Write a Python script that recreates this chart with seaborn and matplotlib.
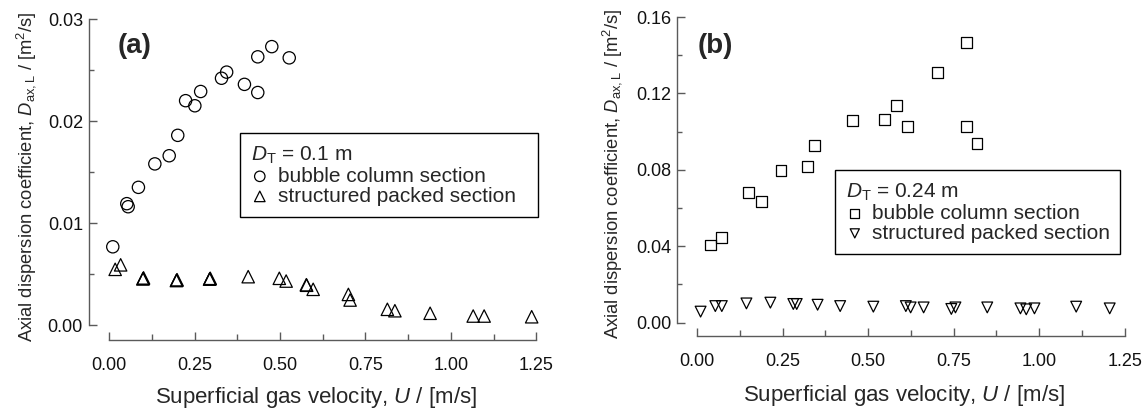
import matplotlib
matplotlib.use("Agg")
import matplotlib.pyplot as plt
import seaborn as sns
from matplotlib.ticker import MultipleLocator, FormatStrFormatter

# ---------------- data ----------------
# (a) D_T = 0.1 m
bc_a_u = [0.011, 0.052, 0.056, 0.086, 0.134, 0.176, 0.201, 0.224, 0.251, 0.268,
          0.329, 0.344, 0.396, 0.435, 0.435, 0.476, 0.527]
bc_a_d = [0.00767, 0.0119, 0.0116, 0.0135, 0.0158, 0.0166, 0.0186, 0.0220, 0.0215, 0.0229,
          0.0242, 0.0248, 0.0236, 0.0228, 0.0263, 0.0273, 0.0262]
sp_a_u = [0.018, 0.034, 0.099, 0.100, 0.101, 0.197, 0.198, 0.199, 0.294, 0.295, 0.296,
          0.407, 0.498, 0.518, 0.577, 0.578, 0.597, 0.700, 0.705, 0.814, 0.836, 0.939,
          1.065, 1.097, 1.236]
sp_a_d = [0.00546, 0.0059, 0.00452, 0.00457, 0.00462, 0.00436, 0.0044, 0.00444, 0.0045, 0.00454,
          0.00458, 0.00474, 0.00458, 0.00431, 0.00395, 0.0039, 0.0035, 0.0030, 0.00245, 0.00154,
          0.0014, 0.00115, 0.00088, 0.00088, 0.00081]

# (b) D_T = 0.24 m
bc_b_u = [0.040, 0.072, 0.150, 0.188, 0.245, 0.322, 0.342, 0.455, 0.548, 0.582,
          0.615, 0.702, 0.786, 0.786, 0.818]
bc_b_d = [0.0406, 0.0446, 0.0680, 0.0636, 0.0795, 0.0816, 0.0925, 0.1057, 0.1062, 0.1139,
          0.1026, 0.1309, 0.1466, 0.1026, 0.0939]
sp_b_u = [0.010, 0.053, 0.072, 0.144, 0.214, 0.281, 0.291, 0.352, 0.418, 0.515,
          0.610, 0.624, 0.662, 0.743, 0.755, 0.848, 0.945, 0.962, 0.986, 1.108, 1.206]
sp_b_d = [0.0057, 0.0086, 0.0086, 0.0100, 0.0104, 0.0097, 0.0097, 0.0093, 0.0086, 0.0083,
          0.0086, 0.0079, 0.0079, 0.0071, 0.0079, 0.0079, 0.0074, 0.0069, 0.0074, 0.0083, 0.0074]

xticks = [0.00, 0.25, 0.50, 0.75, 1.00, 1.25]
yticks_a = [0.00, 0.01, 0.02, 0.03]
yticks_b = [0.00, 0.04, 0.08, 0.12, 0.16]

# ---------------- style ----------------
sns.set_style("ticks")
plt.rcParams['font.family'] = ['Liberation Sans', 'DejaVu Sans']
plt.rcParams['mathtext.fontset'] = 'custom'
plt.rcParams['mathtext.rm'] = 'Liberation Sans'
plt.rcParams['mathtext.it'] = 'Liberation Sans:italic'
plt.rcParams['mathtext.bf'] = 'Liberation Sans:bold'

W, H = 1145, 408
fig = plt.figure(figsize=(W / 100, H / 100), dpi=100)
fig.patch.set_facecolor('white')


def px_axes(left, right, top, bottom):
    return [left / W, (H - bottom) / H, (right - left) / W, (bottom - top) / H]


boxL = (88.5, 543.3, 14, 340.3)
boxR = (677, 1131.6, 11.3, 336)
axL = fig.add_axes(px_axes(*boxL))
axR = fig.add_axes(px_axes(*boxR))

spine_col = '#5a5a5a'
ylabel = r"Axial dispersion coefficient, $D_\mathrm{ax,L}$ / [m$^2$/s]"
xlabel = r"Superficial gas velocity, $U$ / [m/s]"


def style_axes(ax, box, xlim, ylim, ybound, yticks, yminor, xlab_y, ylab_x):
    ax.set_xlim(*xlim)
    ax.set_ylim(*ylim)
    ax.set_facecolor('white')
    for s in ['top', 'right']:
        ax.spines[s].set_visible(False)
    for s in ['left', 'bottom']:
        ax.spines[s].set_color(spine_col)
        ax.spines[s].set_linewidth(1.0)
    ax.spines['left'].set_bounds(0, ybound)
    ax.spines['bottom'].set_bounds(0, 1.25)
    ax.set_xticks(xticks)
    ax.set_yticks(yticks)
    ax.xaxis.set_minor_locator(MultipleLocator(0.125))
    ax.yaxis.set_minor_locator(MultipleLocator(yminor))
    ax.xaxis.set_major_formatter(FormatStrFormatter('%.2f'))
    ax.yaxis.set_major_formatter(FormatStrFormatter('%.2f'))
    ax.tick_params(which='both', direction='in', color=spine_col, width=1.0,
                   labelsize=13, labelcolor='#111111')
    ax.tick_params(axis='x', which='major', length=5.5, pad=12)
    ax.tick_params(axis='x', which='minor', length=4)
    ax.tick_params(axis='y', which='major', length=5.5, pad=4)
    ax.tick_params(axis='y', which='minor', length=3.5)
    left, right, top, bottom = box
    ax.set_xlabel(xlabel, fontsize=16)
    ax.set_ylabel(ylabel, fontsize=13.2)
    ax.xaxis.set_label_coords(0.5, (bottom - xlab_y) / (bottom - top))
    ax.xaxis.label.set_va('center')
    ax.yaxis.set_label_coords((ylab_x - left) / (right - left), 0.5)
    ax.yaxis.label.set_va('center')
    ax.yaxis.label.set_ha('center')


# ---------------- (a) ----------------
sns.scatterplot(x=bc_a_u, y=bc_a_d, ax=axL, marker='o', s=78, color='black',
                facecolor='none', edgecolor='black', linewidth=0.9,
                label='bubble column section', zorder=3)
sns.scatterplot(x=sp_a_u, y=sp_a_d, ax=axL, marker='^', s=80, color='black',
                facecolor='none', edgecolor='black', linewidth=0.9,
                label='structured packed section', zorder=3)
style_axes(axL, boxL, (-0.06, 1.27), (-0.0015, 0.0305), 0.03, yticks_a, 0.005, 397, 26)
axL.text(135 / W, 1 - 46 / H, '(a)', transform=fig.transFigure, fontsize=20,
         fontweight='bold', ha='center', va='center')

# ---------------- (b) ----------------
sns.scatterplot(x=bc_b_u, y=bc_b_d, ax=axR, marker='s', s=62, color='black',
                facecolor='none', edgecolor='black', linewidth=0.9,
                label='bubble column section', zorder=3)
sns.scatterplot(x=sp_b_u, y=sp_b_d, ax=axR, marker='v', s=60, color='black',
                facecolor='none', edgecolor='black', linewidth=0.9,
                label='structured packed section', zorder=3)
style_axes(axR, boxR, (-0.059, 1.27), (-0.00707, 0.163), 0.16, yticks_b, 0.02, 395, 612)
axR.text(715 / W, 1 - 46 / H, '(b)', transform=fig.transFigure, fontsize=20,
         fontweight='bold', ha='center', va='center')


def make_legend(ax, title, left, right, top):
    leg = ax.legend(title=title, loc='upper left',
                    bbox_to_anchor=(left / W, 1 - top / H, (right - left) / W, 0),
                    bbox_transform=fig.transFigure, mode='expand', borderaxespad=0,
                    frameon=True, fancybox=False, framealpha=1, edgecolor='black',
                    fontsize=15, title_fontsize=15, alignment='left',
                    handlelength=0.8, handletextpad=0.45, labelspacing=0.05,
                    borderpad=0.55, scatterpoints=1, markerscale=0.85)
    leg.get_frame().set_linewidth(1.0)
    return leg


make_legend(axL, r"$D_\mathrm{T}$ = 0.1 m", 240, 538, 133)
make_legend(axR, r"$D_\mathrm{T}$ = 0.24 m", 835, 1120, 170)

fig.savefig('out.png', dpi=100, facecolor='white')
